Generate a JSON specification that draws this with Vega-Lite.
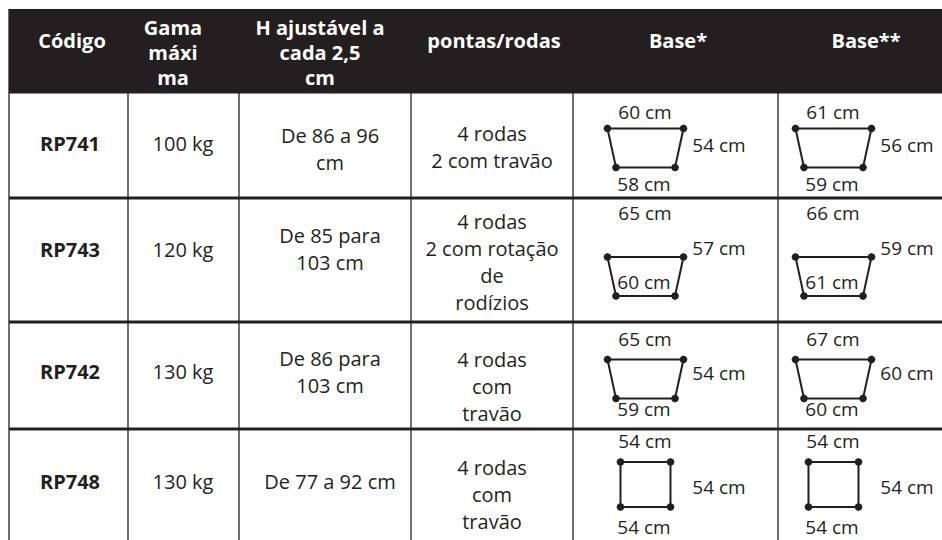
{
  "$schema": "https://vega.github.io/schema/vega-lite/v6.json",
  "width": 933,
  "height": 531,
  "autosize": "none",
  "padding": {"left": 9, "top": 9, "right": 0, "bottom": 0},
  "background": "white",
  "config": {"view": {"stroke": null}},
  "datasets": {
    "colunas": [
      {"coluna": "Código", "ordem": 0, "titulo": ["Código"]},
      {"coluna": "Gama máxima", "ordem": 1, "titulo": ["Gama", "máxi", "ma"]},
      {"coluna": "H ajustável", "ordem": 2, "titulo": ["H ajustável a", "cada 2,5", "cm"]},
      {"coluna": "pontas/rodas", "ordem": 3, "titulo": ["pontas/rodas"]},
      {"coluna": "Base*", "ordem": 4, "titulo": ["Base*"]},
      {"coluna": "Base**", "ordem": 5, "titulo": ["Base**"]}
    ],
    "modelos": [
      {"codigo": "RP741", "linha": 1, "gama": "100 kg", "altura": ["De 86 a 96", "cm"], "rodas": ["4 rodas", "2 com travão"]},
      {"codigo": "RP743", "linha": 2, "gama": "120 kg", "altura": ["De 85 para", "103 cm"], "rodas": ["4 rodas", "2 com rotação", "de", "rodízios"]},
      {"codigo": "RP742", "linha": 3, "gama": "130 kg", "altura": ["De 86 para", "103 cm"], "rodas": ["4 rodas", "com", "travão"]},
      {"codigo": "RP748", "linha": 4, "gama": "130 kg", "altura": ["De 77 a 92 cm"], "rodas": ["4 rodas", "com", "travão"]}
    ],
    "bases": [
      {"codigo": "RP741", "base": "Base*", "forma": "trapézio", "topo": "60 cm", "lado": "54 cm", "fundo": "58 cm"},
      {"codigo": "RP741", "base": "Base**", "forma": "trapézio", "topo": "61 cm", "lado": "56 cm", "fundo": "59 cm"},
      {"codigo": "RP743", "base": "Base*", "forma": "trapézio", "topo": "65 cm", "lado": "57 cm", "fundo": "60 cm"},
      {"codigo": "RP743", "base": "Base**", "forma": "trapézio", "topo": "66 cm", "lado": "59 cm", "fundo": "61 cm"},
      {"codigo": "RP742", "base": "Base*", "forma": "trapézio", "topo": "65 cm", "lado": "54 cm", "fundo": "59 cm"},
      {"codigo": "RP742", "base": "Base**", "forma": "trapézio", "topo": "67 cm", "lado": "60 cm", "fundo": "60 cm"},
      {"codigo": "RP748", "base": "Base*", "forma": "quadrado", "topo": "54 cm", "lado": "54 cm", "fundo": "54 cm"},
      {"codigo": "RP748", "base": "Base**", "forma": "quadrado", "topo": "54 cm", "lado": "54 cm", "fundo": "54 cm"}
    ]
  },
  "layer": [
    {
      "data": {"name": "colunas"},
      "mark": {"type": "rule", "color": "#231f20", "strokeWidth": 1.3},
      "encoding": {
        "x": {"field": "ordem", "type": "quantitative", "axis": null,
          "scale": {"domain": [0,1,2,3,4,5], "range": [0,119,230,402,564,769], "nice": false, "zero": false}}
      }
    },
    {
      "data": {"name": "modelos"},
      "mark": {"type": "rule", "color": "#231f20", "strokeWidth": 3},
      "encoding": {
        "y": {"field": "linha", "type": "quantitative", "axis": null,
          "scale": {"domain": [1,2,3,4], "range": [83,189,313,420], "nice": false, "zero": false}}
      }
    },
    {
      "layer": [
        {
          "data": {"values": [{"secao": "cabeçalho"}]},
          "mark": {"type": "rect", "color": "#231f20"},
          "encoding": {
            "x": {"datum": -0.5, "type": "quantitative", "axis": null,
              "scale": {"domain": [-0.5,0,0.5,1,1.5,2,2.5,3,3.5,4,4.5,5,5.5], "range": [0,61,119,174,230,321,402,483,564,667,769,855,941], "nice": false, "zero": false}},
            "x2": {"datum": 5.5},
            "y": {"datum": -0.5, "type": "quantitative", "axis": null,
              "scale": {"domain": [-0.5,0,0.5,1,1.5,2,2.5,3,3.5,4,4.5], "range": [0,33,83,136,189,242,313,364,420,474,531], "nice": false, "zero": false}},
            "y2": {"datum": 0.5}
          }
        },
        {
          "data": {"name": "colunas"},
          "transform": [{"filter": "length(datum.titulo) == 1"}],
          "mark": {"type": "text", "font": "Open Sans", "fontSize": 20, "fontWeight": "bold", "color": "white", "baseline": "middle", "align": "center", "dx": 2},
          "encoding": {
            "x": {"field": "ordem", "type": "quantitative", "axis": null},
            "y": {"datum": 0, "type": "quantitative", "axis": null},
            "text": {"field": "titulo"}
          }
        },
        {
          "data": {"name": "colunas"},
          "transform": [{"filter": "length(datum.titulo) > 1"}],
          "mark": {"type": "text", "font": "Open Sans", "fontSize": 20, "fontWeight": "bold", "color": "white", "lineHeight": 25, "baseline": "middle", "align": "center", "dx": -10, "dy": -13},
          "encoding": {
            "x": {"field": "ordem", "type": "quantitative", "axis": null},
            "y": {"datum": 0, "type": "quantitative", "axis": null},
            "text": {"field": "titulo"}
          }
        },
        {
          "data": {"name": "modelos"},
          "mark": {"type": "text", "font": "Open Sans", "fontSize": 20, "fontWeight": "bold", "color": "#231f20", "baseline": "middle", "align": "center"},
          "encoding": {
            "x": {"datum": 0, "type": "quantitative", "axis": null},
            "y": {"field": "linha", "type": "quantitative", "axis": null},
            "text": {"field": "codigo"}
          }
        },
        {
          "data": {"name": "modelos"},
          "mark": {"type": "text", "font": "Open Sans", "fontSize": 20, "color": "#231f20", "baseline": "middle", "align": "center"},
          "encoding": {
            "x": {"datum": 1, "type": "quantitative", "axis": null},
            "y": {"field": "linha", "type": "quantitative", "axis": null},
            "text": {"field": "gama"}
          }
        }
      ]
    },
    {
      "data": {"name": "modelos"},
      "mark": {"type": "text", "font": "Open Sans", "fontSize": 20, "color": "#231f20", "lineHeight": 27, "baseline": "middle", "align": "center"},
      "encoding": {
        "x": {"datum": 2, "type": "quantitative", "axis": null,
          "scale": {"domain": [-0.5,0,0.5,1,1.5,2,2.5,3,3.5,4,4.5,5,5.5], "range": [0,61,119,174,230,321,402,483,564,667,769,855,941], "nice": false, "zero": false}},
        "y": {"field": "linha", "type": "quantitative", "axis": null, "scale": {"domain": [1,2,3,4], "range": [128,228,351,474], "nice": false, "zero": false}},
        "text": {"field": "altura"}
      }
    },
    {
      "data": {"name": "modelos"},
      "mark": {"type": "text", "font": "Open Sans", "fontSize": 20, "color": "#231f20", "lineHeight": 27, "baseline": "middle", "align": "center"},
      "encoding": {
        "x": {"datum": 3, "type": "quantitative", "axis": null,
          "scale": {"domain": [-0.5,0,0.5,1,1.5,2,2.5,3,3.5,4,4.5,5,5.5], "range": [0,61,119,174,230,321,402,483,564,667,769,855,941], "nice": false, "zero": false}},
        "y": {"field": "linha", "type": "quantitative", "axis": null, "scale": {"domain": [1,2,3,4], "range": [126,214,352,460], "nice": false, "zero": false}},
        "text": {"field": "rodas"}
      }
    },
    {
      "data": {"name": "bases"},
      "transform": [
        {"lookup": "codigo", "from": {"data": {"name": "modelos"}, "key": "codigo", "fields": ["linha"]}},
        {"lookup": "base", "from": {"data": {"name": "colunas"}, "key": "coluna", "fields": ["ordem"]}}
      ],
      "mark": {"type": "point", "filled": false, "stroke": "#231f20", "strokeWidth": 2, "opacity": 1, "size": 5776},
      "encoding": {
        "x": {"field": "ordem", "type": "quantitative", "axis": null,
          "scale": {"domain": [-0.5,0,0.5,1,1.5,2,2.5,3,3.5,4,4.5,5,5.5], "range": [0,61,119,174,230,321,402,483,564,667,769,855,941], "nice": false, "zero": false}},
        "y": {"field": "linha", "type": "quantitative", "axis": null, "scale": {"domain": [1,2,3,4], "range": [139,267.5,370,475.5], "nice": false, "zero": false}},
        "shape": {"field": "forma", "type": "nominal", "legend": null,
          "scale": {"domain": ["trapézio", "quadrado"], "range": ["M-1.803,-0.513L0.197,-0.513L-0.026,0.513L-1.579,0.513Z", "M-1.461,-0.592L-0.145,-0.592L-0.145,0.592L-1.461,0.592Z"]}}
      }
    },
    {
      "data": {"name": "bases"},
      "transform": [
        {"lookup": "codigo", "from": {"data": {"name": "modelos"}, "key": "codigo", "fields": ["linha"]}},
        {"lookup": "base", "from": {"data": {"name": "colunas"}, "key": "coluna", "fields": ["ordem"]}}
      ],
      "mark": {"type": "point", "filled": true, "color": "#231f20", "strokeWidth": 0, "opacity": 1, "size": 5776},
      "encoding": {
        "x": {"field": "ordem", "type": "quantitative", "axis": null,
          "scale": {"domain": [-0.5,0,0.5,1,1.5,2,2.5,3,3.5,4,4.5,5,5.5], "range": [0,61,119,174,230,321,402,483,564,667,769,855,941], "nice": false, "zero": false}},
        "y": {"field": "linha", "type": "quantitative", "axis": null, "scale": {"domain": [1,2,3,4], "range": [139,267.5,370,475.5], "nice": false, "zero": false}},
        "shape": {"field": "forma", "type": "nominal", "legend": null,
          "scale": {"domain": ["trapézio", "quadrado"], "range": [
            "M-1.698,-0.513l-0.031,0.074l-0.074,0.031l-0.074,-0.031l-0.031,-0.074l0.031,-0.074l0.074,-0.031l0.074,0.031zM0.302,-0.513l-0.031,0.074l-0.074,0.031l-0.074,-0.031l-0.031,-0.074l0.031,-0.074l0.074,-0.031l0.074,0.031zM0.079,0.513l-0.031,0.074l-0.074,0.031l-0.074,-0.031l-0.031,-0.074l0.031,-0.074l0.074,-0.031l0.074,0.031zM-1.474,0.513l-0.031,0.074l-0.074,0.031l-0.074,-0.031l-0.031,-0.074l0.031,-0.074l0.074,-0.031l0.074,0.031z",
            "M-1.356,-0.592l-0.031,0.074l-0.074,0.031l-0.074,-0.031l-0.031,-0.074l0.031,-0.074l0.074,-0.031l0.074,0.031zM-0.040,-0.592l-0.031,0.074l-0.074,0.031l-0.074,-0.031l-0.031,-0.074l0.031,-0.074l0.074,-0.031l0.074,0.031zM-0.040,0.592l-0.031,0.074l-0.074,0.031l-0.074,-0.031l-0.031,-0.074l0.031,-0.074l0.074,-0.031l0.074,0.031zM-1.356,0.592l-0.031,0.074l-0.074,0.031l-0.074,-0.031l-0.031,-0.074l0.031,-0.074l0.074,-0.031l0.074,0.031z"
          ]}}
      }
    },
    {
      "data": {"name": "bases"},
      "transform": [
        {"lookup": "codigo", "from": {"data": {"name": "modelos"}, "key": "codigo", "fields": ["linha"]}},
        {"lookup": "base", "from": {"data": {"name": "colunas"}, "key": "coluna", "fields": ["ordem"]}}
      ],
      "mark": {"type": "text", "font": "Open Sans", "fontSize": 19, "color": "#231f20", "baseline": "middle", "align": "center", "dx": -31},
      "encoding": {
        "x": {"field": "ordem", "type": "quantitative", "axis": null,
          "scale": {"domain": [-0.5,0,0.5,1,1.5,2,2.5,3,3.5,4,4.5,5,5.5], "range": [0,61,119,174,230,321,402,483,564,667,769,855,941], "nice": false, "zero": false}},
        "y": {"field": "linha", "type": "quantitative", "axis": null, "scale": {"domain": [1,2,3,4], "range": [103.5,205,330.5,433], "nice": false, "zero": false}},
        "text": {"field": "topo"}
      }
    },
    {
      "data": {"name": "bases"},
      "transform": [
        {"lookup": "codigo", "from": {"data": {"name": "modelos"}, "key": "codigo", "fields": ["linha"]}},
        {"lookup": "base", "from": {"data": {"name": "colunas"}, "key": "coluna", "fields": ["ordem"]}}
      ],
      "mark": {"type": "text", "font": "Open Sans", "fontSize": 19, "color": "#231f20", "baseline": "middle", "align": "center", "dx": 43},
      "encoding": {
        "x": {"field": "ordem", "type": "quantitative", "axis": null,
          "scale": {"domain": [-0.5,0,0.5,1,1.5,2,2.5,3,3.5,4,4.5,5,5.5], "range": [0,61,119,174,230,321,402,483,564,667,769,855,941], "nice": false, "zero": false}},
        "y": {"field": "linha", "type": "quantitative", "axis": null, "scale": {"domain": [1,2,3,4], "range": [137,240,365,479], "nice": false, "zero": false}},
        "text": {"field": "lado"}
      }
    },
    {
      "data": {"name": "bases"},
      "transform": [
        {"lookup": "codigo", "from": {"data": {"name": "modelos"}, "key": "codigo", "fields": ["linha"]}},
        {"lookup": "base", "from": {"data": {"name": "colunas"}, "key": "coluna", "fields": ["ordem"]}}
      ],
      "mark": {"type": "text", "font": "Open Sans", "fontSize": 19, "color": "#231f20", "baseline": "middle", "align": "center", "dx": -32},
      "encoding": {
        "x": {"field": "ordem", "type": "quantitative", "axis": null,
          "scale": {"domain": [-0.5,0,0.5,1,1.5,2,2.5,3,3.5,4,4.5,5,5.5], "range": [0,61,119,174,230,321,402,483,564,667,769,855,941], "nice": false, "zero": false}},
        "y": {"field": "linha", "type": "quantitative", "axis": null, "scale": {"domain": [1,2,3,4], "range": [175.5,274,401,519], "nice": false, "zero": false}},
        "text": {"field": "fundo"}
      }
    }
  ],
  "resolve": {"scale": {"x": "independent", "y": "independent", "shape": "independent"}}
}
